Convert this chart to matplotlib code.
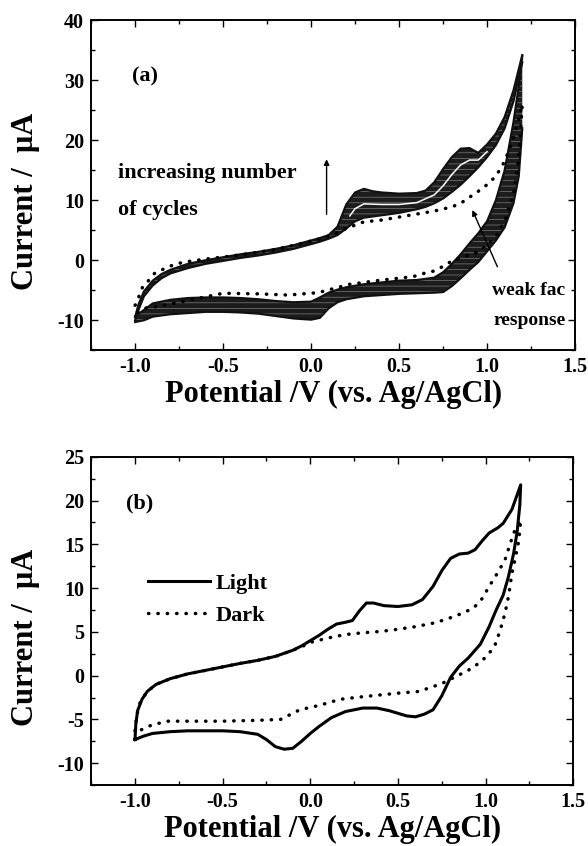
import matplotlib
matplotlib.use("Agg")
import matplotlib.pyplot as plt
from matplotlib.ticker import MultipleLocator, FixedLocator

plt.rcParams['font.family'] = ['Liberation Serif', 'DejaVu Serif']
plt.rcParams['font.weight'] = 'bold'
plt.rcParams['hatch.linewidth'] = 0.5

# ---------------- panel (a): repeated cycling ----------------
# anodic sweep envelope of all cycles (potential in V, current in uA)
fwd_v = [-1.0, -0.98, -0.95, -0.9, -0.85, -0.8, -0.7, -0.6, -0.5, -0.4, -0.3, -0.2,
         -0.1, 0.0, 0.05, 0.1, 0.15, 0.2, 0.25, 0.3, 0.35, 0.4, 0.5, 0.6, 0.65,
         0.7, 0.75, 0.8, 0.85, 0.9, 0.95, 1.0, 1.05, 1.1, 1.15, 1.2]
fwd_hi = [-9.5, -7.3, -5.2, -3.4, -2.3, -1.6, -0.6, 0.0, 0.5, 1.0, 1.4, 1.9,
          2.5, 3.3, 3.7, 4.2, 5.6, 9.3, 11.3, 11.9, 11.5, 11.3, 11.1, 11.2, 11.6,
          13.0, 15.2, 17.2, 18.6, 18.7, 17.9, 19.3, 21.1, 23.9, 28.3, 34.2]
fwd_lo = [-10.0, -8.2, -6.0, -4.2, -3.0, -2.2, -1.3, -0.6, -0.1, 0.4, 0.8, 1.3,
          1.9, 2.7, 3.1, 3.6, 4.2, 5.3, 6.5, 7.1, 7.3, 7.5, 7.9, 8.5, 8.9,
          9.5, 10.3, 11.4, 12.6, 14.0, 15.5, 17.2, 19.2, 22.0, 26.5, 33.0]
# intermediate cycle visible between the outer traces
mid_v = [0.22, 0.25, 0.3, 0.4, 0.5, 0.6, 0.7, 0.75, 0.8, 0.85, 0.9, 0.95, 1.0]
mid_i = [7.4, 8.6, 9.4, 9.3, 9.3, 9.6, 10.9, 12.4, 14.3, 15.9, 16.7, 16.7, 18.1]

# cathodic sweep envelope of all cycles
rev_v = [-1.0, -0.95, -0.9, -0.8, -0.7, -0.6, -0.5, -0.4, -0.3, -0.2, -0.1, 0.0,
         0.05, 0.1, 0.15, 0.2, 0.3, 0.4, 0.5, 0.6, 0.7, 0.75, 0.8, 0.85, 0.9,
         0.95, 1.0, 1.05, 1.1, 1.15, 1.18, 1.2]
rev_hi = [-9.3, -8.3, -7.2, -6.6, -6.3, -6.2, -6.2, -6.3, -6.5, -6.8, -7.0, -6.9,
          -6.2, -5.4, -4.9, -4.5, -4.0, -3.7, -3.4, -3.3, -2.9, -2.0, -0.6, 1.0, 2.8,
          4.5, 6.5, 10.0, 15.0, 23.0, 29.0, 34.0]
rev_lo = [-10.3, -10.0, -9.4, -9.0, -8.8, -8.6, -8.6, -8.7, -8.9, -9.3, -9.7, -9.9,
          -9.6, -8.0, -7.0, -6.5, -6.0, -5.8, -5.6, -5.5, -5.4, -5.3, -4.3, -3.0, -1.6,
          -0.3, 1.5, 3.3, 5.5, 9.5, 14.0, 22.0]

# first cycle (weak fac response), full loop
first_v = [-1.0, -0.975, -0.957, -0.93, -0.89, -0.834, -0.777, -0.72, -0.6, -0.4,
           -0.2, 0.0, 0.1, 0.2, 0.3, 0.4, 0.5, 0.6, 0.7, 0.8, 0.85, 0.9, 0.95, 1.0,
           1.05, 1.1, 1.13, 1.15, 1.18, 1.2,
           1.18, 1.15, 1.1, 1.05, 1.0, 0.95, 0.9, 0.85, 0.79, 0.745, 0.697, 0.64,
           0.583, 0.527, 0.4, 0.22, 0.04, -0.13, -0.3, -0.5, -0.7, -0.87, -0.95,
           -1.0]
first_i = [-7.5, -5.8, -4.4, -3.6, -2.2, -1.4, -0.7, -0.3, 0.2, 0.9,
           1.8, 3.2, 4.0, 5.3, 6.4, 6.7, 7.2, 7.7, 8.2, 8.9, 9.5, 10.5, 11.5, 12.6,
           14.0, 16.5, 18.8, 20.5, 23.5, 26.0,
           17.0, 11.0, 6.5, 4.0, 2.5, 1.4, 0.9, 0.4, -0.3, -1.1, -1.8, -2.2,
           -2.7, -2.9, -3.3, -4.0, -5.4, -5.8, -5.6, -5.5, -6.7, -7.7, -8.0,
           -8.8]

# ---------------- panel (b): light vs dark ----------------
light_v = [-1.0, -0.995, -0.985, -0.96, -0.93, -0.88, -0.8, -0.7, -0.6, -0.5, -0.4,
           -0.3, -0.2, -0.1, -0.05, 0.0, 0.05, 0.1, 0.15, 0.2, 0.24, 0.28, 0.32,
           0.36, 0.42, 0.5, 0.58, 0.64, 0.7, 0.75, 0.8, 0.85, 0.9, 0.94, 0.98,
           1.02, 1.07, 1.1, 1.15, 1.2,
           1.195, 1.18, 1.16, 1.13, 1.1, 1.06, 1.02, 0.97, 0.9, 0.85, 0.8, 0.75,
           0.7, 0.65, 0.6, 0.55, 0.45, 0.38, 0.3, 0.2, 0.12, 0.05, 0.0, -0.05,
           -0.1, -0.15, -0.2, -0.25, -0.3, -0.4, -0.5, -0.6, -0.7, -0.8, -0.9,
           -0.95, -1.0]
light_i = [-7.3, -5.5, -4.0, -2.7, -1.8, -1.0, -0.35, 0.2, 0.6, 1.0, 1.4,
           1.75, 2.2, 2.9, 3.4, 4.0, 4.6, 5.3, 5.9, 6.1, 6.3, 7.4, 8.3,
           8.3, 8.0, 7.9, 8.1, 8.7, 10.2, 12.0, 13.4, 13.9, 14.0, 14.4, 15.4,
           16.3, 16.9, 17.4, 19.0, 21.8,
           19.5, 16.5, 14.0, 11.3, 9.2, 7.5, 5.6, 3.6, 2.0, 1.1, -0.2, -2.3,
           -3.9, -4.4, -4.7, -4.6, -4.0, -3.7, -3.7, -4.1, -4.8, -5.8, -6.6, -7.5,
           -8.3, -8.4, -8.1, -7.3, -6.7, -6.4, -6.3, -6.3, -6.3, -6.4, -6.6,
           -6.9, -7.3]

dark_v = [-1.0, -0.99, -0.97, -0.93, -0.88, -0.8, -0.7, -0.6, -0.5, -0.4, -0.3,
          -0.2, -0.1, -0.05, 0.0, 0.1, 0.2, 0.3, 0.4, 0.5, 0.6, 0.7, 0.77, 0.85,
          0.93, 0.98, 1.02, 1.07, 1.11, 1.16, 1.2,
          1.19, 1.17, 1.15, 1.13, 1.11, 1.08, 1.05, 1.0, 0.96, 0.9, 0.83, 0.75,
          0.62, 0.5, 0.4, 0.3, 0.17, 0.05, -0.06, -0.17, -0.3, -0.5, -0.7, -0.81,
          -0.9, -0.966]
dark_i = [-6.3, -4.5, -3.0, -1.8, -1.0, -0.35, 0.2, 0.6, 1.0, 1.4, 1.75,
          2.2, 2.9, 3.3, 3.8, 4.3, 4.7, 4.9, 5.05, 5.3, 5.6, 6.0, 6.4, 7.0,
          7.7, 8.8, 10.2, 11.8, 13.2, 16.3, 17.8,
          15.5, 13.5, 11.7, 9.0, 7.1, 5.0, 3.3, 2.1, 1.4, 0.6, -0.1, -0.9,
          -1.8, -2.0, -2.2, -2.4, -2.7, -3.4, -3.9, -5.0, -5.1, -5.2, -5.2, -5.2,
          -5.6, -6.2]

x_ticks = [-1.0, -0.5, 0.0, 0.5, 1.0, 1.5]
x_tick_labels = ['-1.0', '-0.5', '0.0', '0.5', '1.0', '1.5']
ya_ticks = [-10, 0, 10, 20, 30, 40]
yb_ticks = [-10, -5, 0, 5, 10, 15, 20, 25]

dot_style = (0, (0.1, 2.6))
TICK_FS = 14.5
LABEL_FS = 22
NOTE_FS = 16

fig = plt.figure(figsize=(5.88, 8.46), dpi=100)
ax_a = fig.add_axes([0.155, 0.586, 0.823, 0.390])
ax_b = fig.add_axes([0.155, 0.072, 0.820, 0.388])


def style_axes(ax, yticks, yminor, ylim):
    ax.set_xlim(-1.25, 1.5)
    ax.set_ylim(*ylim)
    ax.xaxis.set_major_locator(FixedLocator(x_ticks))
    ax.set_xticklabels(x_tick_labels)
    ax.xaxis.set_minor_locator(MultipleLocator(0.25))
    ax.yaxis.set_major_locator(FixedLocator(yticks))
    ax.set_yticklabels([str(t) for t in yticks])
    ax.yaxis.set_minor_locator(MultipleLocator(yminor))
    ax.tick_params(which='both', direction='in', top=True, right=True,
                   width=1.0, labelsize=TICK_FS, pad=5)
    ax.tick_params(which='major', length=5)
    ax.tick_params(which='minor', length=3)
    for sp in ax.spines.values():
        sp.set_linewidth(1.4)
    for lab in ax.get_xticklabels() + ax.get_yticklabels():
        lab.set_fontweight('bold')
    ax.set_xlabel('Potential /V (vs. Ag/AgCl)', fontsize=LABEL_FS,
                  fontweight='bold', labelpad=2)
    ax.set_ylabel('Current /  \u03bcA', fontsize=LABEL_FS, fontweight='bold')
    ax.yaxis.set_label_coords(-0.106, 0.45)


# panel (a)
band_kw = dict(facecolor='#1c1c1c', edgecolor='#7c7c7c', hatch='---',
               linewidth=0, zorder=2)
ax_a.fill_between(fwd_v, fwd_lo, fwd_hi, **band_kw)
ax_a.fill_between(rev_v, rev_lo, rev_hi, **band_kw)
for xs, ys in ((fwd_v, fwd_hi), (fwd_v, fwd_lo), (rev_v, rev_hi), (rev_v, rev_lo)):
    ax_a.plot(xs, ys, color='#111111', lw=1.6, zorder=3)
ax_a.plot(mid_v, mid_i, color='white', lw=1.1, zorder=3)
ax_a.plot(first_v, first_i, color='black', lw=2.5, linestyle=dot_style,
          dash_capstyle='round', zorder=4)

ax_a.text(-1.02, 30.7, '(a)', fontsize=NOTE_FS, fontweight='bold', va='center')
ax_a.text(-1.095, 14.5, 'increasing number', fontsize=NOTE_FS,
          fontweight='bold', va='center')
ax_a.text(-1.095, 8.3, 'of cycles', fontsize=NOTE_FS, fontweight='bold',
          va='center')
ax_a.annotate('', xy=(0.088, 17.3), xytext=(0.088, 7.2),
              arrowprops=dict(arrowstyle='-|>', color='black', lw=1.0,
                              mutation_scale=8))
ax_a.annotate('', xy=(0.91, 8.8), xytext=(1.065, -1.5),
              arrowprops=dict(arrowstyle='-|>', color='black', lw=1.0,
                              mutation_scale=8))
ax_a.text(1.445, -5.0, 'weak fac', fontsize=14, fontweight='bold',
          ha='right', va='center')
ax_a.text(1.445, -10.0, 'response', fontsize=14, fontweight='bold',
          ha='right', va='center')
style_axes(ax_a, ya_ticks, 5, (-15, 40))

# panel (b)
ax_b.plot(light_v, light_i, color='black', lw=2.2, label='Light', zorder=3)
ax_b.plot(dark_v, dark_i, color='black', lw=2.5, linestyle=dot_style,
          dash_capstyle='round', label='Dark', zorder=3)
ax_b.text(-1.05, 19.7, '(b)', fontsize=NOTE_FS, fontweight='bold', va='center')
leg = ax_b.legend(loc='upper left', bbox_to_anchor=(0.077, 0.705), frameon=False,
                  handlelength=2.8, handletextpad=0.23, labelspacing=0.5,
                  borderpad=0.4, prop=dict(size=NOTE_FS, weight='bold'))
style_axes(ax_b, yb_ticks, 2.5, (-12.5, 25))

fig.savefig('out.png', dpi=100)
